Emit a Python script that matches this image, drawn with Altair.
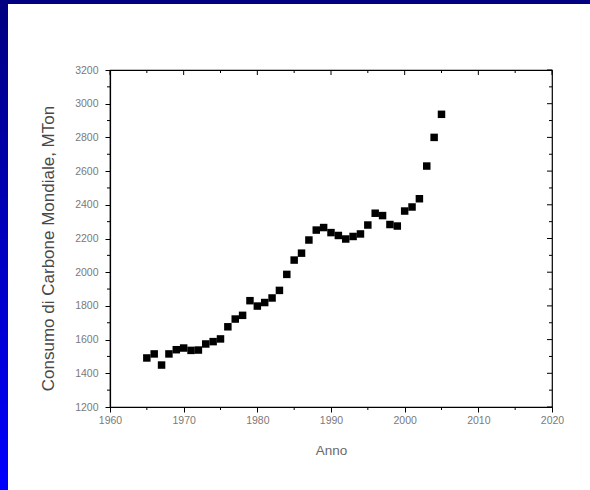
import altair as alt
import pandas as pd

years = list(range(1965, 2006))
consumo = [1491, 1515, 1449, 1515, 1540, 1550, 1536, 1538, 1574, 1588, 1604,
           1676, 1722, 1744, 1831, 1799, 1820, 1847, 1892, 1987, 2072, 2113,
           2191, 2250, 2265, 2235, 2218, 2197, 2212, 2227, 2280, 2350, 2336,
           2283, 2274, 2363, 2387, 2436, 2630, 2800, 2937]

x_major = [1960, 1970, 1980, 1990, 2000, 2010, 2020]
x_minor = [1965, 1975, 1985, 1995, 2005, 2015]
y_major = [1200, 1400, 1600, 1800, 2000, 2200, 2400, 2600, 2800, 3000, 3200]
y_minor = [1300, 1500, 1700, 1900, 2100, 2300, 2500, 2700, 2900, 3100]

W, H = 442, 337
FONT = "Liberation Sans"

df = pd.DataFrame({"Anno": years, "Consumo": consumo})
xs = alt.Scale(domain=[1960, 2020], nice=False, zero=False)
ys = alt.Scale(domain=[1200, 3200], nice=False, zero=False)
xaxis = alt.Axis(values=x_major, format="d", title="Anno", tickSize=5, labelPadding=3,
                 titlePadding=18, labelFlush=False)
yaxis = alt.Axis(values=y_major, format="d", title="Consumo di Carbone Mondiale, MTon",
                 tickSize=5, labelPadding=7, titlePadding=17, labelFlush=False,
                 titleY=178)


def X(f):
    return alt.X(f, scale=xs, axis=xaxis)


def Y(f):
    return alt.Y(f, scale=ys, axis=yaxis)


one = pd.DataFrame({"a": [0]})
grad = {"gradient": "linear", "x1": 0, "x2": 0, "y1": 0, "y2": 1,
        "stops": [{"offset": 0, "color": "#000080"}, {"offset": 1, "color": "#0000ff"}]}
left_strip = alt.Chart(one).mark_rect(color=grad).encode(
    x=alt.value(-110), x2=alt.value(-102), y=alt.value(-70), y2=alt.value(H + 83))
top_strip = alt.Chart(one).mark_rect(color="#000080").encode(
    x=alt.value(-110), x2=alt.value(W + 38), y=alt.value(-70), y2=alt.value(-66))

points = alt.Chart(df).mark_square(size=56, color="black", opacity=1).encode(
    x=X("Anno:Q"), y=Y("Consumo:Q"))

xmin_df = pd.DataFrame({"Anno": x_minor})
xmaj_df = pd.DataFrame({"Anno": x_major})
ymin_df = pd.DataFrame({"Consumo": y_minor})
ymaj_df = pd.DataFrame({"Consumo": y_major})

bottom_minor = alt.Chart(xmin_df).mark_rule(color="black").encode(
    x=X("Anno:Q"), y=alt.value(H), y2=alt.value(H + 3))
left_minor = alt.Chart(ymin_df).mark_rule(color="black").encode(
    y=Y("Consumo:Q"), x=alt.value(-3), x2=alt.value(0))
top_maj = alt.Chart(xmaj_df).mark_rule(color="black").encode(
    x=X("Anno:Q"), y=alt.value(0), y2=alt.value(5))
top_min = alt.Chart(xmin_df).mark_rule(color="black").encode(
    x=X("Anno:Q"), y=alt.value(0), y2=alt.value(3))
right_maj = alt.Chart(ymaj_df).mark_rule(color="black").encode(
    y=Y("Consumo:Q"), x=alt.value(W - 5), x2=alt.value(W))
right_min = alt.Chart(ymin_df).mark_rule(color="black").encode(
    y=Y("Consumo:Q"), x=alt.value(W - 3), x2=alt.value(W))

chart = alt.layer(
    points, left_strip, top_strip, bottom_minor, left_minor, top_maj, top_min,
    right_maj, right_min
).properties(
    width=W, height=H,
    autosize=alt.AutoSizeParams(type="none"),
    padding={"left": 110, "top": 70, "right": 38, "bottom": 83},
    background="white",
).configure_view(
    stroke="black", strokeWidth=1.2
).configure_axis(
    grid=False, domainColor="black", tickColor="black", domainWidth=1.2,
    labelFont=FONT, labelFontSize=10.5, labelColor="#7a7a7a",
    titleFont=FONT, titleFontWeight="normal",
).configure_axisX(
    titleFontSize=13.5, titleColor="#6a6a6a",
).configure_axisY(
    titleFontSize=17, titleColor="#484848",
)

chart.save("out.html", embed_options={"renderer": "svg", "actions": False})
